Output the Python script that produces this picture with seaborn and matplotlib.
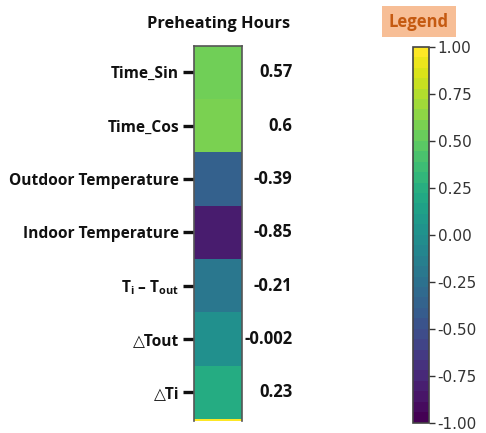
import numpy as np
import pandas as pd
import matplotlib
matplotlib.use("Agg")
import matplotlib.pyplot as plt
import matplotlib as mpl
import seaborn as sns

# Correlation of each feature with the target (last row is the target itself)
features = ["Time_Sin", "Time_Cos", "Outdoor Temperature", "Indoor Temperature",
            "T$_{\\mathbf{i}}$ – T$_{\\mathbf{out}}$", "△Tout", "△Ti", "Preheating Hours"]
corr_values = [0.57, 0.6, -0.39, -0.85, -0.21, -0.002, 0.23, 1.0]
value_labels = ["0.57", "0.6", "-0.39", "-0.85", "-0.21", "-0.002", "0.23", "1"]
target = "Preheating Hours"
cbar_ticks = [-1.0, -0.75, -0.5, -0.25, 0.0, 0.25, 0.5, 0.75, 1.0]

n_shown = 7

sns.set_theme(style="white")
plt.rcParams["font.family"] = ["Open Sans", "DejaVu Sans"]
plt.rcParams["mathtext.fontset"] = "custom"
plt.rcParams["mathtext.bf"] = "Open Sans:bold"
plt.rcParams["mathtext.rm"] = "Open Sans"

df = pd.DataFrame({target: corr_values}, index=features)

fig = plt.figure(figsize=(4.86, 4.33), dpi=100)
ax = fig.add_axes([0.3998, 0.0266, 0.098, 0.868])
cax = fig.add_axes([0.849, 0.0238, 0.0342, 0.868])

sns.heatmap(df, ax=ax, cmap="viridis", vmin=-1, vmax=1, cbar=False,
            xticklabels=False, yticklabels=False)
ax.set_ylim(n_shown + 0.045, 0)

ax.set_yticks(np.arange(n_shown) + 0.5)
ax.set_yticklabels(features[:n_shown], fontsize=11.2, fontweight="bold",
                   color="#111111")
ax.tick_params(axis="y", left=True, direction="inout", length=16, width=2.4,
               color="#111111", pad=3)
ax.set_xticks([])
ax.set_ylabel("")
for name in ["left", "right", "top"]:
    ax.spines[name].set_visible(True)
    ax.spines[name].set_color("#555555")
    ax.spines[name].set_linewidth(1.2)
ax.spines["bottom"].set_visible(False)

# Correlation values to the right of the column
for i in range(n_shown):
    ax.text(2.06, i + 0.5, value_labels[i], transform=ax.get_yaxis_transform(),
            ha="right", va="center", fontsize=12, fontweight="bold",
            color="#111111")

ax.set_title(target, fontsize=11.8, fontweight="bold", color="#111111", pad=13)

# Stepped colour scale on the side
sm = mpl.cm.ScalarMappable(norm=mpl.colors.Normalize(-1, 1),
                           cmap=mpl.colormaps["viridis"].resampled(36))
cb = fig.colorbar(sm, cax=cax, ticks=cbar_ticks, format="%.2f")
cb.outline.set_edgecolor("#444444")
cb.outline.set_linewidth(1.2)
cax.tick_params(labelsize=11, colors="#333333", length=4, width=1, pad=2)
for lbl in cax.get_yticklabels():
    lbl.set_family("DejaVu Sans")

fig.text(0.862, 0.950, "Legend", ha="center", va="center", fontsize=12,
         fontweight="bold", color="#C55A11",
         bbox=dict(boxstyle="square,pad=0.4", facecolor="#F7BE96",
                   edgecolor="none"))

fig.savefig("out.png", dpi=100)
